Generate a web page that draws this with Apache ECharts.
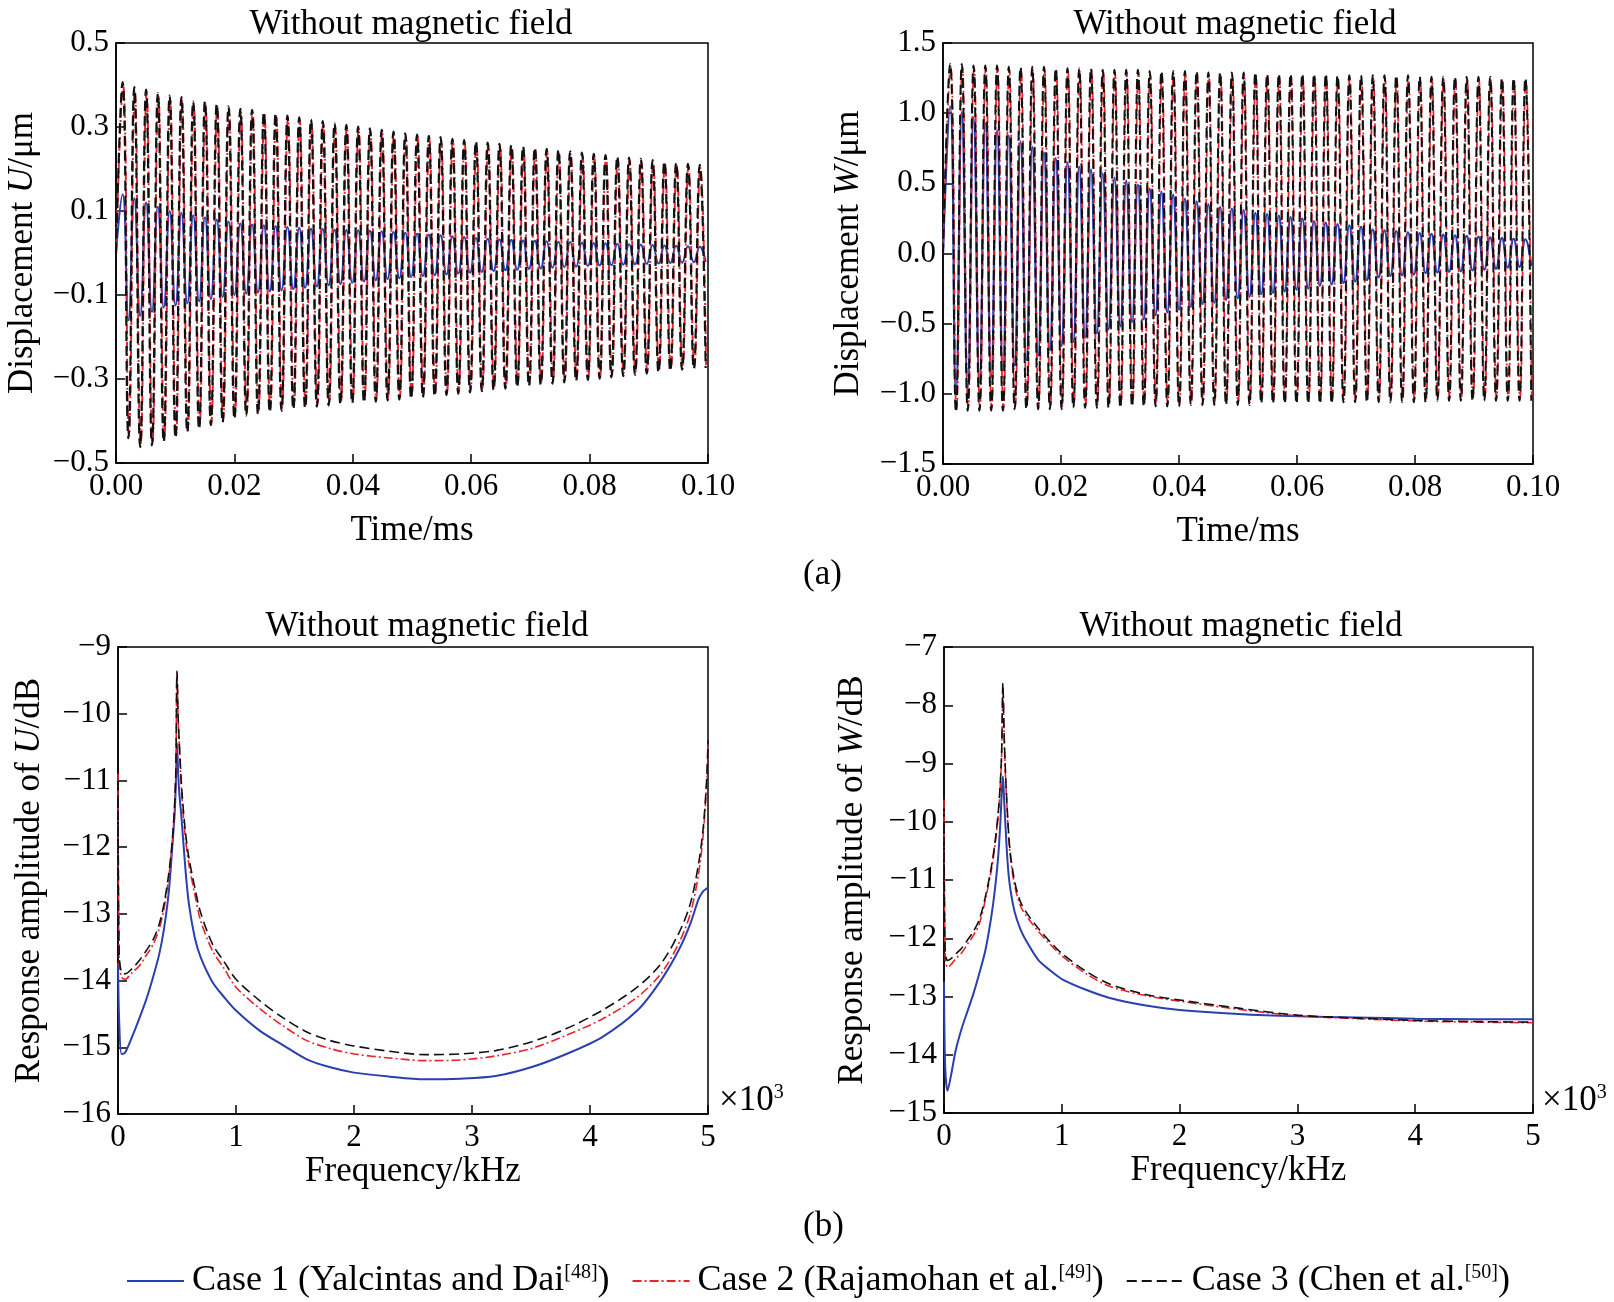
<!DOCTYPE html>
<html>
<head>
<meta charset="utf-8">
<script src="https://cdn.jsdelivr.net/npm/echarts@6/dist/echarts.min.js"></script>
<style>
  html, body { margin: 0; padding: 0; background: #fff; }
  #main { width: 1614px; height: 1302px; }
</style>
</head>
<body>
<div id="main"></div>
<script>
// ---- time response, extrema read per cycle (peak then trough) ----
var halfPeriod = 0.000995;
var tStartU = 0.0011;
var tStartW = 0.0012;

var uPeaks1 = [0.14,0.13,0.12,0.11,0.10,0.095,0.09,0.085,0.08,0.075,
  0.07,0.068,0.066,0.064,0.062,0.06,0.058,0.057,0.056,0.055,
  0.054,0.053,0.052,0.05,0.048,0.046,0.044,0.042,0.04,0.038,
  0.036,0.034,0.032,0.031,0.03,0.029,0.028,0.027,0.026,0.025,
  0.024,0.023,0.022,0.021,0.02,0.019,0.018,0.017,0.016,0.015];
var uTroughs1 = [-0.16,-0.15,-0.14,-0.13,-0.125,-0.12,-0.115,-0.11,-0.105,-0.10,
  -0.097,-0.094,-0.091,-0.089,-0.086,-0.083,-0.08,-0.077,-0.074,-0.071,
  -0.068,-0.065,-0.062,-0.06,-0.057,-0.055,-0.053,-0.051,-0.049,-0.047,
  -0.045,-0.043,-0.041,-0.04,-0.038,-0.037,-0.035,-0.034,-0.033,-0.031,
  -0.03,-0.029,-0.028,-0.027,-0.026,-0.025,-0.024,-0.023,-0.022,-0.021];
var uPeaks2 = [0.40,0.388,0.382,0.374,0.368,0.364,0.355,0.354,0.348,0.342,
  0.337,0.334,0.329,0.325,0.32,0.316,0.311,0.307,0.302,0.298,
  0.294,0.29,0.286,0.282,0.278,0.275,0.272,0.269,0.265,0.262,
  0.259,0.256,0.253,0.25,0.247,0.244,0.241,0.238,0.235,0.232,
  0.229,0.226,0.223,0.22,0.217,0.214,0.211,0.208,0.205,0.203];
var uTroughs2 = [-0.434,-0.455,-0.451,-0.443,-0.433,-0.42,-0.412,-0.403,-0.396,-0.388,
  -0.38,-0.376,-0.372,-0.369,-0.365,-0.362,-0.359,-0.356,-0.353,-0.351,
  -0.349,-0.347,-0.344,-0.342,-0.34,-0.337,-0.334,-0.331,-0.328,-0.325,
  -0.322,-0.319,-0.316,-0.313,-0.31,-0.307,-0.304,-0.301,-0.298,-0.295,
  -0.292,-0.289,-0.286,-0.283,-0.28,-0.277,-0.274,-0.271,-0.269,-0.267];
var uPeaks3 = [0.407,0.395,0.389,0.381,0.375,0.371,0.361,0.361,0.355,0.349,
  0.343,0.341,0.336,0.332,0.327,0.323,0.318,0.314,0.309,0.305,
  0.301,0.297,0.293,0.289,0.285,0.282,0.279,0.276,0.272,0.269,
  0.266,0.263,0.26,0.257,0.254,0.251,0.248,0.245,0.242,0.239,
  0.236,0.233,0.23,0.227,0.224,0.221,0.218,0.215,0.212,0.21];
var uTroughs3 = [-0.441,-0.462,-0.458,-0.45,-0.44,-0.427,-0.419,-0.41,-0.403,-0.395,
  -0.387,-0.383,-0.379,-0.376,-0.372,-0.369,-0.366,-0.363,-0.36,-0.358,
  -0.356,-0.354,-0.351,-0.349,-0.347,-0.344,-0.341,-0.338,-0.335,-0.332,
  -0.329,-0.326,-0.323,-0.32,-0.317,-0.314,-0.311,-0.308,-0.305,-0.302,
  -0.299,-0.296,-0.293,-0.29,-0.287,-0.284,-0.281,-0.278,-0.276,-0.274];

var wPeaks1 = [1.05,1.01,0.97,0.93,0.88,0.84,0.80,0.76,0.72,0.68,
  0.65,0.62,0.60,0.57,0.54,0.52,0.49,0.46,0.44,0.42,
  0.39,0.37,0.35,0.33,0.32,0.31,0.29,0.28,0.27,0.26,
  0.25,0.23,0.22,0.21,0.20,0.19,0.17,0.165,0.16,0.15,
  0.145,0.14,0.135,0.13,0.125,0.12,0.115,0.11,0.105,0.10];
var wTroughs1 = [-1.00,-0.96,-0.92,-0.88,-0.84,-0.80,-0.76,-0.73,-0.69,-0.66,
  -0.63,-0.60,-0.57,-0.54,-0.52,-0.49,-0.47,-0.44,-0.42,-0.40,
  -0.38,-0.36,-0.35,-0.33,-0.32,-0.31,-0.29,-0.28,-0.27,-0.26,
  -0.25,-0.23,-0.22,-0.21,-0.20,-0.19,-0.17,-0.16,-0.155,-0.15,
  -0.14,-0.135,-0.13,-0.125,-0.12,-0.115,-0.11,-0.10,-0.095,-0.09];
var wPeaks2 = [1.33,1.33,1.32,1.32,1.32,1.31,1.31,1.31,1.31,1.30,
  1.30,1.30,1.30,1.29,1.29,1.29,1.29,1.28,1.28,1.28,
  1.28,1.28,1.27,1.27,1.27,1.27,1.27,1.26,1.26,1.26,
  1.26,1.26,1.26,1.25,1.25,1.25,1.25,1.25,1.25,1.25,
  1.24,1.24,1.24,1.24,1.24,1.24,1.24,1.23,1.23,1.23];
var wTroughs2 = [-1.11,-1.10,-1.10,-1.10,-1.10,-1.09,-1.09,-1.09,-1.09,-1.09,
  -1.08,-1.08,-1.08,-1.08,-1.08,-1.07,-1.07,-1.07,-1.07,-1.07,
  -1.06,-1.06,-1.06,-1.06,-1.06,-1.06,-1.05,-1.05,-1.05,-1.05,
  -1.05,-1.05,-1.05,-1.04,-1.04,-1.04,-1.04,-1.04,-1.04,-1.04,
  -1.04,-1.03,-1.03,-1.03,-1.03,-1.03,-1.03,-1.03,-1.03,-1.03];
var wPeaks3 = [1.35,1.35,1.34,1.34,1.34,1.33,1.33,1.33,1.33,1.32,
  1.32,1.32,1.32,1.31,1.31,1.31,1.31,1.30,1.30,1.30,
  1.30,1.30,1.29,1.29,1.29,1.29,1.29,1.28,1.28,1.28,
  1.28,1.28,1.28,1.27,1.27,1.27,1.27,1.27,1.27,1.27,
  1.26,1.26,1.26,1.26,1.26,1.26,1.26,1.25,1.25,1.25];
var wTroughs3 = [-1.13,-1.12,-1.12,-1.12,-1.12,-1.11,-1.11,-1.11,-1.11,-1.11,
  -1.10,-1.10,-1.10,-1.10,-1.10,-1.09,-1.09,-1.09,-1.09,-1.09,
  -1.08,-1.08,-1.08,-1.08,-1.08,-1.08,-1.07,-1.07,-1.07,-1.07,
  -1.07,-1.07,-1.07,-1.06,-1.06,-1.06,-1.06,-1.06,-1.06,-1.06,
  -1.06,-1.05,-1.05,-1.05,-1.05,-1.05,-1.05,-1.05,-1.05,-1.05];

// ---- frequency response (kHz, dB) ----
var freqU = [0,0.01,0.03,0.06,0.12,0.18,0.24,0.3,0.35,0.39,0.43,0.46,0.48,0.49,0.5,0.51,0.52,0.54,0.57,0.6,
  0.65,0.7,0.8,0.9,1.0,1.2,1.4,1.6,1.8,2.0,2.3,2.6,2.9,3.2,3.5,3.8,4.1,4.4,4.6,4.75,4.85,4.92,4.96,4.99,5.0];
var ampU1 = [-13.74,-14.6,-15.1,-15.08,-14.84,-14.57,-14.28,-13.93,-13.6,-13.22,-12.68,-12.0,-11.5,-11.05,-10.44,-10.9,-11.2,-11.6,-12.3,-12.84,
  -13.35,-13.65,-14.02,-14.25,-14.45,-14.75,-14.97,-15.18,-15.3,-15.38,-15.44,-15.48,-15.47,-15.43,-15.3,-15.1,-14.85,-14.45,-14.0,-13.55,-13.15,-12.78,-12.66,-12.62,-12.6];
var ampU2 = [-10.9,-13.7,-13.95,-13.98,-13.88,-13.78,-13.62,-13.45,-13.22,-12.92,-12.45,-11.95,-11.4,-10.9,-9.39,-10.1,-10.5,-11.2,-11.84,-12.25,
  -12.7,-13.1,-13.55,-13.82,-14.1,-14.42,-14.68,-14.9,-15.02,-15.1,-15.16,-15.2,-15.19,-15.13,-15.02,-14.82,-14.58,-14.25,-13.9,-13.45,-13.0,-12.4,-11.8,-11.0,-10.45];
var ampU3 = [-11.0,-13.6,-13.88,-13.9,-13.82,-13.7,-13.55,-13.38,-13.15,-12.85,-12.4,-11.9,-11.35,-10.85,-9.36,-10.05,-10.45,-11.12,-11.75,-12.15,
  -12.6,-12.98,-13.45,-13.72,-13.98,-14.3,-14.56,-14.77,-14.9,-14.98,-15.06,-15.11,-15.1,-15.05,-14.92,-14.72,-14.45,-14.1,-13.75,-13.3,-12.85,-12.25,-11.7,-10.95,-10.4];

var freqW = [0,0.01,0.03,0.06,0.1,0.15,0.2,0.25,0.3,0.35,0.4,0.43,0.46,0.48,0.49,0.5,0.51,0.52,0.54,0.56,
  0.6,0.65,0.7,0.8,0.9,1.0,1.2,1.4,1.7,2.0,2.5,3.0,3.5,4.0,4.5,5.0];
var ampW1 = [-12.75,-14.2,-14.62,-14.35,-13.92,-13.55,-13.25,-12.95,-12.6,-12.22,-11.65,-11.2,-10.6,-9.95,-9.5,-9.22,-9.6,-10.0,-10.7,-11.11,
  -11.55,-11.85,-12.05,-12.37,-12.55,-12.7,-12.88,-13.02,-13.15,-13.23,-13.3,-13.34,-13.36,-13.38,-13.39,-13.39];
var ampW2 = [-9.62,-12.3,-12.5,-12.45,-12.35,-12.25,-12.1,-11.95,-11.75,-11.35,-10.85,-10.45,-9.9,-9.3,-8.8,-7.68,-8.5,-9.11,-9.95,-10.54,
  -11.1,-11.45,-11.62,-11.88,-12.1,-12.3,-12.6,-12.82,-12.98,-13.08,-13.22,-13.33,-13.38,-13.42,-13.44,-13.45];
var ampW3 = [-10.0,-12.2,-12.38,-12.35,-12.27,-12.17,-12.03,-11.88,-11.68,-11.3,-10.8,-10.4,-9.85,-9.25,-8.75,-7.62,-8.45,-9.05,-9.9,-10.48,
  -11.03,-11.38,-11.56,-11.83,-12.06,-12.26,-12.56,-12.78,-12.96,-13.06,-13.2,-13.32,-13.37,-13.41,-13.43,-13.44];

var caseNames = ['Case 1', 'Case 2', 'Case 3'];
var caseRefs = {
  'Case 1': 'Case 1 (Yalcintas and Dai{sup|[48]})',
  'Case 2': 'Case 2 (Rajamohan et al.{sup|[49]})',
  'Case 3': 'Case 3 (Chen et al.{sup|[50]})'
};

var FONT = '"Liberation Serif", "DejaVu Serif", serif';
var FS = 31;   // tick labels
var FW = 35;   // words

function osc(peaks, troughs, t0) {
  var pts = [[0, 0]];
  for (var k = 0; k < peaks.length; k++) {
    pts.push([t0 + 2 * k * halfPeriod, peaks[k]]);
    pts.push([t0 + (2 * k + 1) * halfPeriod, troughs[k]]);
  }
  return pts;
}

function pairs(xs, ys) {
  return xs.map(function (x, i) { return [x, ys[i]]; });
}

function fmt(d) {
  return function (v) {
    if (Math.abs(v) < 1e-9) v = 0;
    return (v < 0 ? '\u2212' : '') + Math.abs(v).toFixed(d);
  };
}

var lineStyles = [
  { color: '#2b3fae', width: 2, type: 'solid' },
  { color: '#e8232b', width: 1.6, type: [9, 3, 2, 3] },
  { color: '#111111', width: 1.6, type: [10, 5] }
];

function makeSeries(idx, gridIdx, data, smooth, width) {
  var ls = Object.assign({}, lineStyles[idx]);
  if (width) ls.width = width;
  return {
    name: caseNames[idx],
    type: 'line',
    xAxisIndex: gridIdx,
    yAxisIndex: gridIdx,
    data: data,
    showSymbol: false,
    symbol: 'none',
    smooth: smooth,
    animation: false,
    lineStyle: ls,
    itemStyle: { color: ls.color },
    z: 2 + idx
  };
}

function xAx(gridIdx, min, max, interval, d, name, gap) {
  return {
    gridIndex: gridIdx, type: 'value', min: min, max: max, interval: interval,
    axisLine: { show: true, onZero: false, lineStyle: { color: '#000', width: 1.5 } },
    axisTick: { show: true, inside: true, length: 9, lineStyle: { color: '#000', width: 1.5 } },
    axisLabel: { color: '#000', fontFamily: FONT, fontSize: FS, margin: 8, formatter: fmt(d) },
    splitLine: { show: false },
    name: name, nameLocation: 'middle', nameGap: gap,
    nameTextStyle: { color: '#000', fontFamily: FONT, fontSize: FW }
  };
}

function yAx(gridIdx, min, max, interval, d, name, gap) {
  return {
    gridIndex: gridIdx, type: 'value', min: min, max: max, interval: interval,
    axisLine: { show: true, onZero: false, lineStyle: { color: '#000', width: 1.5 } },
    axisTick: { show: true, inside: true, length: 9, lineStyle: { color: '#000', width: 1.5 } },
    axisLabel: { color: '#000', fontFamily: FONT, fontSize: FS, margin: 7, formatter: fmt(d) },
    splitLine: { show: false },
    name: name, nameLocation: 'middle', nameGap: gap,
    nameTextStyle: {
      color: '#000', fontFamily: FONT, fontSize: FW,
      rich: { i: { fontStyle: 'italic', fontFamily: FONT, fontSize: FW, color: '#000' } }
    }
  };
}

var gridBox = { show: true, borderColor: '#000', borderWidth: 1.5, backgroundColor: 'transparent', containLabel: false };
var titleStyle = { fontFamily: FONT, fontSize: FW, fontWeight: 'normal', color: '#000' };
var supStyle = { font: '20px ' + FONT, fill: '#000', padding: [0, 0, 16, 0] };

var chart = echarts.init(document.getElementById('main'), null, { renderer: 'canvas' });

chart.setOption({
  backgroundColor: '#fff',
  animation: false,
  textStyle: { fontFamily: FONT, color: '#000' },
  title: [
    { text: 'Without magnetic field', left: 406, top: 2, textAlign: 'center', textStyle: titleStyle },
    { text: 'Without magnetic field', left: 1230, top: 2, textAlign: 'center', textStyle: titleStyle },
    { text: 'Without magnetic field', left: 422, top: 604, textAlign: 'center', textStyle: titleStyle },
    { text: 'Without magnetic field', left: 1236, top: 604, textAlign: 'center', textStyle: titleStyle }
  ],
  grid: [
    Object.assign({ left: 116, top: 43, width: 592, height: 420 }, gridBox),
    Object.assign({ left: 943, top: 43, width: 590, height: 421 }, gridBox),
    Object.assign({ left: 118, top: 647, width: 590, height: 467 }, gridBox),
    Object.assign({ left: 944, top: 647, width: 589, height: 466 }, gridBox)
  ],
  xAxis: [
    xAx(0, 0, 0.1, 0.02, 2, 'Time/ms', 50),
    xAx(1, 0, 0.1, 0.02, 2, 'Time/ms', 50),
    xAx(2, 0, 5, 1, 0, 'Frequency/kHz', 40),
    xAx(3, 0, 5, 1, 0, 'Frequency/kHz', 40)
  ],
  yAxis: [
    yAx(0, -0.5, 0.5, 0.2, 1, 'Displacement {i|U}/\u03bcm', 76),
    yAx(1, -1.5, 1.5, 0.5, 1, 'Displacement {i|W}/\u03bcm', 77),
    yAx(2, -16, -9, 1, 0, 'Response amplitude of {i|U}/dB', 71),
    yAx(3, -15, -7, 1, 0, 'Response amplitude of {i|W}/dB', 74)
  ],
  legend: {
    data: caseNames,
    left: 121,
    top: 1258,
    itemWidth: 57,
    itemHeight: 14,
    itemGap: 22,
    itemStyle: { opacity: 0 },
    formatter: function (name) { return caseRefs[name]; },
    textStyle: {
      fontFamily: FONT, fontSize: 36, color: '#000', padding: [0, 0, 0, 3],
      rich: { sup: { fontFamily: FONT, fontSize: 20, color: '#000', padding: [0, 0, 16, 0] } }
    }
  },
  graphic: [
    { type: 'text', left: 803, top: 557, style: { text: '(a)', font: FW + 'px ' + FONT, fill: '#000' } },
    { type: 'text', left: 803, top: 1209, style: { text: '(b)', font: FW + 'px ' + FONT, fill: '#000' } },
    { type: 'text', left: 719, top: 1083, style: { text: '{a|\u00d710}{s|3}', rich: { a: { font: FW + 'px ' + FONT, fill: '#000' }, s: supStyle } } },
    { type: 'text', left: 1542, top: 1083, style: { text: '{a|\u00d710}{s|3}', rich: { a: { font: FW + 'px ' + FONT, fill: '#000' }, s: supStyle } } }
  ],
  series: [
    makeSeries(0, 0, osc(uPeaks1, uTroughs1, tStartU), 0.5, 2),
    makeSeries(1, 0, osc(uPeaks2, uTroughs2, tStartU + 0.00008), 0.5, 2),
    makeSeries(2, 0, osc(uPeaks3, uTroughs3, tStartU), 0.5, 2.2),
    makeSeries(0, 1, osc(wPeaks1, wTroughs1, tStartW), 0.5, 2.2),
    makeSeries(1, 1, osc(wPeaks2, wTroughs2, tStartW + 0.00008), 0.5, 1.8),
    makeSeries(2, 1, osc(wPeaks3, wTroughs3, tStartW), 0.5, 2),
    makeSeries(0, 2, pairs(freqU, ampU1), 0.3),
    makeSeries(1, 2, pairs(freqU, ampU2), 0.3),
    makeSeries(2, 2, pairs(freqU, ampU3), 0.3),
    makeSeries(0, 3, pairs(freqW, ampW1), 0.3),
    makeSeries(1, 3, pairs(freqW, ampW2), 0.3),
    makeSeries(2, 3, pairs(freqW, ampW3), 0.3)
  ]
});
</script>
</body>
</html>
